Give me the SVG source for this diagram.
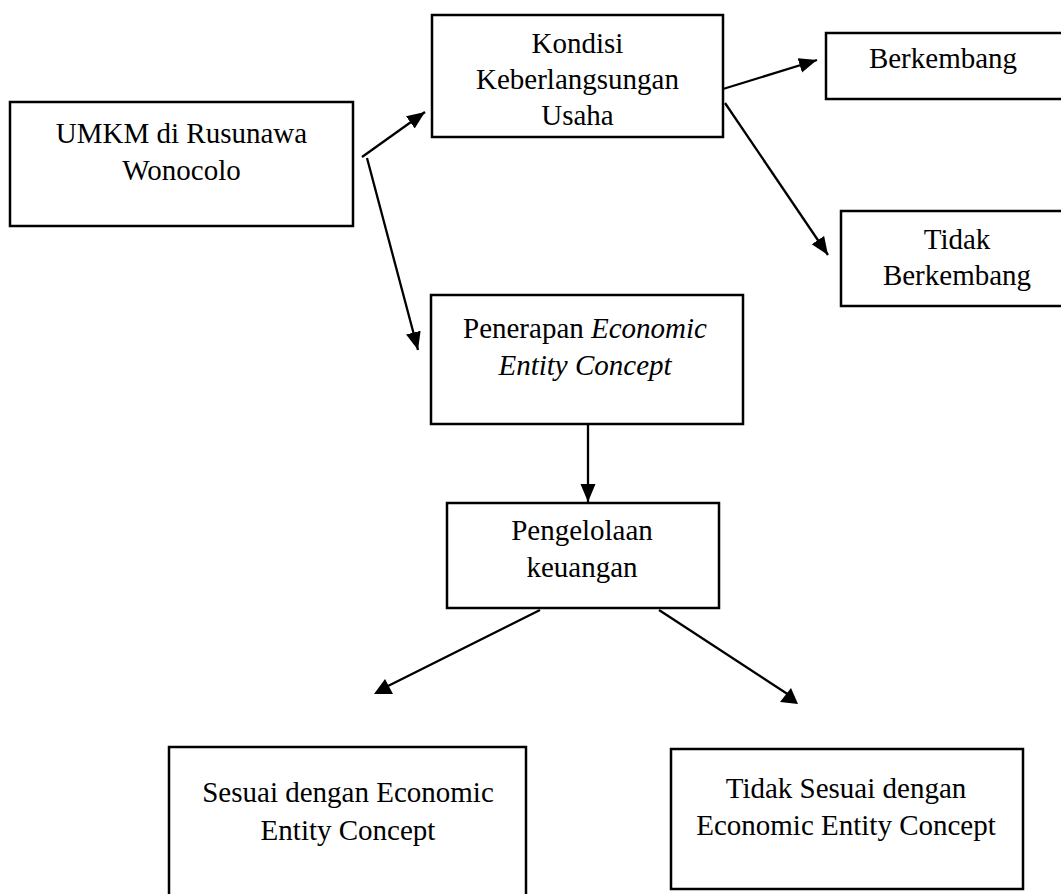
<svg xmlns="http://www.w3.org/2000/svg" width="1061" height="894" viewBox="0 0 1061 894">
  <style>
    .box { fill: #ffffff; stroke: #000000; stroke-width: 2.5; }
    .lbl { font-family: "Liberation Serif", "Times New Roman", serif; font-size: 29px; fill: #000000; text-anchor: middle; }
    .it { font-style: italic; }
    .conn { stroke: #000000; stroke-width: 2.3; fill: none; }
    .head { fill: #000000; stroke: none; }
  </style>
  <defs>
    <marker id="arrow" markerUnits="userSpaceOnUse" markerWidth="19" markerHeight="16" refX="18" refY="7.5" orient="auto">
      <path d="M0,0 L18,7.5 L0,15 z" fill="#000000"/>
    </marker>
  </defs>
  <rect x="0" y="0" width="1061" height="894" fill="#ffffff"/>

  <g id="connectors">
    <line class="conn" x1="362" y1="157" x2="425" y2="112" marker-end="url(#arrow)"/>
    <line class="conn" x1="367" y1="158" x2="418" y2="350" marker-end="url(#arrow)"/>
    <line class="conn" x1="723" y1="89" x2="817" y2="60" marker-end="url(#arrow)"/>
    <line class="conn" x1="725" y1="103" x2="828" y2="255" marker-end="url(#arrow)"/>
    <line class="conn" x1="588" y1="424" x2="588" y2="502" marker-end="url(#arrow)"/>
    <line class="conn" x1="540" y1="610" x2="384" y2="688"/>
    <polygon class="head" points="374,694 393,694 385,679"/>
    <line class="conn" x1="659" y1="610" x2="789" y2="695"/>
    <polygon class="head" points="780,702 798,704 791,688"/>
  </g>

  <g id="node-umkm">
    <rect class="box" x="10" y="102" width="343" height="124"/>
    <text class="lbl" x="181.5" y="143">UMKM di Rusunawa</text>
    <text class="lbl" x="181.5" y="180">Wonocolo</text>
  </g>

  <g id="node-kondisi">
    <rect class="box" x="432" y="15" width="291" height="122"/>
    <text class="lbl" x="577.5" y="53">Kondisi</text>
    <text class="lbl" x="577.5" y="89">Keberlangsungan</text>
    <text class="lbl" x="577.5" y="125">Usaha</text>
  </g>

  <g id="node-berkembang">
    <rect class="box" x="826" y="33" width="250" height="66"/>
    <text class="lbl" x="943" y="68">Berkembang</text>
  </g>

  <g id="node-tidak-berkembang">
    <rect class="box" x="841" y="211" width="250" height="95"/>
    <text class="lbl" x="957" y="249">Tidak</text>
    <text class="lbl" x="957" y="285">Berkembang</text>
  </g>

  <g id="node-penerapan">
    <rect class="box" x="431" y="295" width="312" height="129"/>
    <text class="lbl" x="585" y="338">Penerapan <tspan class="it">Economic</tspan></text>
    <text class="lbl it" x="585" y="375">Entity Concept</text>
  </g>

  <g id="node-pengelolaan">
    <rect class="box" x="447" y="503" width="272" height="105"/>
    <text class="lbl" x="582" y="540">Pengelolaan</text>
    <text class="lbl" x="582" y="577">keuangan</text>
  </g>

  <g id="node-sesuai">
    <rect class="box" x="169" y="747" width="357" height="170"/>
    <text class="lbl" x="348" y="802">Sesuai dengan Economic</text>
    <text class="lbl" x="348" y="840">Entity Concept</text>
  </g>

  <g id="node-tidak-sesuai">
    <rect class="box" x="671" y="749" width="352" height="140"/>
    <text class="lbl" x="846" y="798">Tidak Sesuai dengan</text>
    <text class="lbl" x="846" y="835">Economic Entity Concept</text>
  </g>
</svg>
